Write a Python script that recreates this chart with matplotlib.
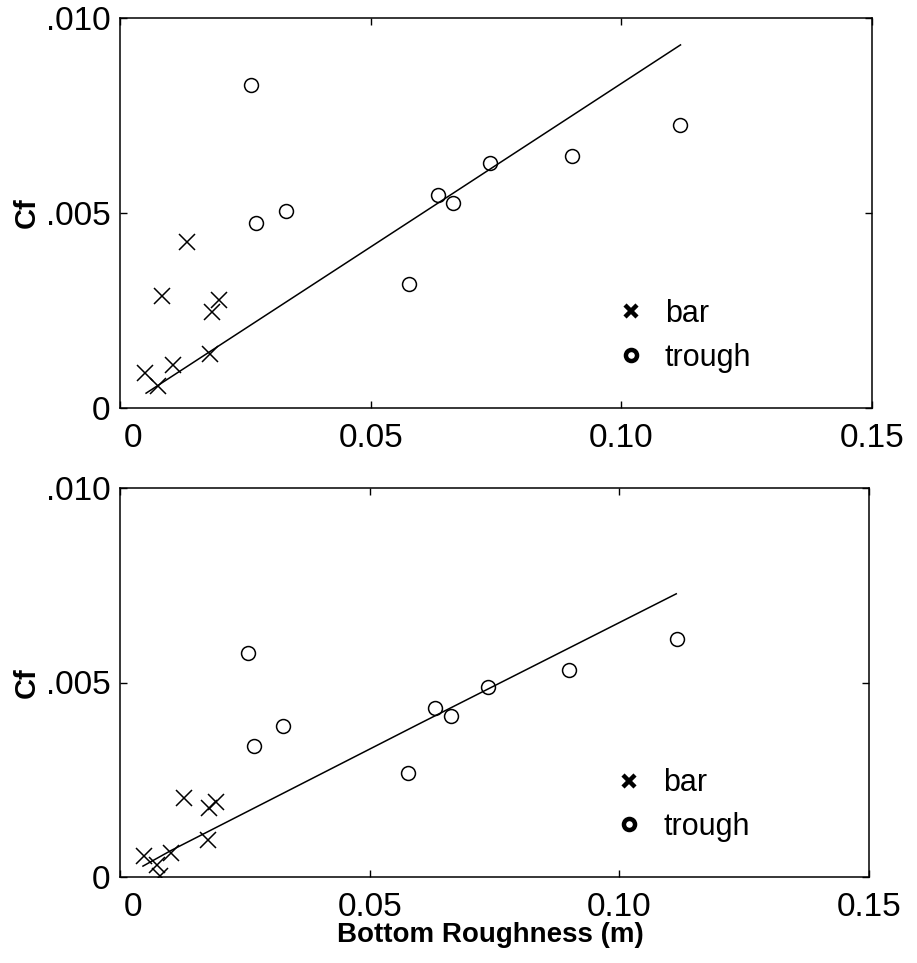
import matplotlib
matplotlib.use("Agg")
import matplotlib.pyplot as plt
from matplotlib.lines import Line2D
from matplotlib.transforms import ScaledTranslation

plt.rcParams['font.family'] = ['Liberation Sans', 'DejaVu Sans']

# ---- data: top panel ----
top_bar_x = [0.0050, 0.0076, 0.0106, 0.0084, 0.0133, 0.0179, 0.0183, 0.0197]
top_bar_y = [0.00090, 0.00056, 0.00110, 0.00287, 0.00426, 0.00138, 0.00246, 0.00277]
top_trough_x = [0.0261, 0.0271, 0.0331, 0.0576, 0.0634, 0.0664, 0.0739, 0.0901, 0.1118]
top_trough_y = [0.00828, 0.00474, 0.00505, 0.00318, 0.00546, 0.00526, 0.00628, 0.00646, 0.00726]
top_line_x = [0.0052, 0.0598, 0.1118]
top_line_y = [0.00038, 0.00495, 0.00931]

# ---- data: bottom panel ----
bot_bar_x = [0.0048, 0.0074, 0.0080, 0.0102, 0.0128, 0.0176, 0.0179, 0.0193]
bot_bar_y = [0.00054, 0.00031, 0.00003, 0.00062, 0.00204, 0.00094, 0.00177, 0.00193]
bot_trough_x = [0.0257, 0.0269, 0.0327, 0.0576, 0.0630, 0.0662, 0.0736, 0.0899, 0.1116]
bot_trough_y = [0.00576, 0.00337, 0.00388, 0.00267, 0.00434, 0.00414, 0.00488, 0.00532, 0.00612]
bot_line_x = [0.0046, 0.0102, 0.0598, 0.1114]
bot_line_y = [0.00028, 0.00068, 0.00393, 0.00728]

xticks = [0, 0.05, 0.10, 0.15]
xticklabels = ['0', '0.05', '0.10', '0.15']
yticks = [0, 0.005, 0.010]
yticklabels = ['0', '.005', '.010']

W, H = 917, 963
fig = plt.figure(figsize=(W / 100, H / 100), dpi=100)

def make_axes(rect, bx, by, tx, ty, lx, ly, xlabel=None):
    ax = fig.add_axes(rect)
    ax.plot(lx, ly, color='black', lw=1.1)
    ax.plot(bx, by, linestyle='none', marker='x', ms=11, mew=1.1, color='black')
    ax.plot(tx, ty, linestyle='none', marker='o', ms=10, mew=1.1,
            mfc='none', mec='black')
    ax.set_xlim(0, 0.15)
    ax.set_ylim(0, 0.010)
    ax.set_xticks(xticks)
    ax.set_xticklabels(xticklabels)
    ax.set_yticks(yticks)
    ax.set_yticklabels(yticklabels)
    ax.tick_params(direction='in', length=5, width=1, top=True, right=True,
                   labelsize=24)
    ax.tick_params(axis='x', pad=11)
    ax.tick_params(axis='y', pad=7)
    lbl0 = ax.get_xticklabels()[0]
    lbl0.set_horizontalalignment('left')
    lbl0.set_transform(lbl0.get_transform() +
                       ScaledTranslation(3 / 72, 0, fig.dpi_scale_trans))
    for s in ax.spines.values():
        s.set_linewidth(1.1)
    ax.set_ylabel('Cf', fontsize=21, fontweight='bold')
    ax.yaxis.set_label_coords(-0.106, 0.5)
    handles = [Line2D([], [], linestyle='none', marker='x', ms=9, mew=3.2, color='black'),
               Line2D([], [], linestyle='none', marker='o', ms=8, mew=3.2,
                      mfc='none', mec='black')]
    ax.legend(handles, ['bar', 'trough'], loc='upper left',
              bbox_to_anchor=(0.623, 0.35), frameon=False, fontsize=22,
              handlelength=1.0, handletextpad=0.6, labelspacing=0.45)
    if xlabel:
        ax.set_xlabel(xlabel, fontsize=20, fontweight='bold')
        ax.xaxis.set_label_coords((490 - 120) / 749, -0.115)
    return ax

ax1 = make_axes([120 / W, 1 - 408 / H, 752 / W, 390 / H],
                top_bar_x, top_bar_y, top_trough_x, top_trough_y,
                top_line_x, top_line_y)
ax2 = make_axes([120 / W, 1 - 877 / H, 749 / W, 389 / H],
                bot_bar_x, bot_bar_y, bot_trough_x, bot_trough_y,
                bot_line_x, bot_line_y, xlabel='Bottom Roughness (m)')

fig.savefig('out.png', dpi=100)
